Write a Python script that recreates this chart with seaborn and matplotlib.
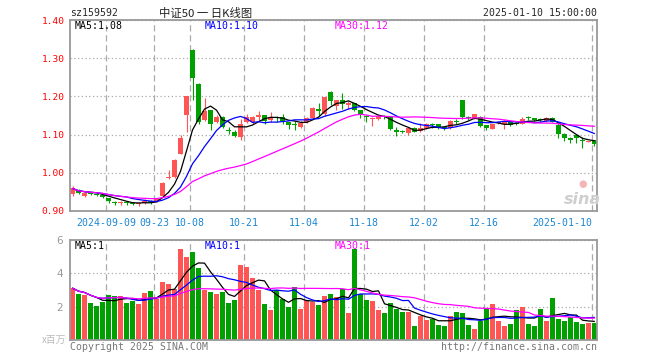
import numpy as np
import pandas as pd
import matplotlib
matplotlib.use('Agg')
import matplotlib.pyplot as plt
import seaborn as sns

# daily candles, 2024-08-30 .. 2025-01-10 (88 trading days)
opens = [0.944, 0.956, 0.939, 0.947, 0.944, 0.943, 0.934, 0.923, 0.921, 0.923,
         0.922, 0.919, 0.922, 0.925, 0.926, 0.938, 0.986, 0.988, 1.050, 1.151,
         1.322, 1.232, 1.138, 1.164, 1.133, 1.147, 1.111, 1.108, 1.094, 1.133,
         1.132, 1.145, 1.151, 1.139, 1.146, 1.145, 1.134, 1.126, 1.121, 1.132,
         1.143, 1.168, 1.153, 1.212, 1.175, 1.190, 1.177, 1.182, 1.164, 1.148,
         1.142, 1.142, 1.148, 1.147, 1.112, 1.109, 1.103, 1.118, 1.110, 1.116,
         1.126, 1.127, 1.118, 1.116, 1.135, 1.190, 1.146, 1.142, 1.147, 1.125,
         1.114, 1.131, 1.127, 1.133, 1.130, 1.129, 1.144, 1.143, 1.140, 1.136,
         1.143, 1.125, 1.101, 1.090, 1.098, 1.086, 1.081, 1.085]
closes = [0.959, 0.947, 0.946, 0.944, 0.943, 0.937, 0.925, 0.922, 0.923, 0.921,
          0.918, 0.921, 0.925, 0.923, 0.932, 0.974, 0.990, 1.033, 1.090, 1.200,
          1.248, 1.133, 1.163, 1.129, 1.147, 1.121, 1.109, 1.096, 1.129, 1.146,
          1.145, 1.152, 1.136, 1.147, 1.145, 1.136, 1.125, 1.125, 1.130, 1.143,
          1.169, 1.161, 1.199, 1.189, 1.190, 1.180, 1.184, 1.165, 1.151, 1.147,
          1.143, 1.149, 1.147, 1.114, 1.107, 1.108, 1.118, 1.108, 1.118, 1.127,
          1.125, 1.116, 1.117, 1.136, 1.134, 1.146, 1.145, 1.153, 1.123, 1.116,
          1.127, 1.132, 1.136, 1.125, 1.129, 1.142, 1.143, 1.138, 1.139, 1.143,
          1.134, 1.101, 1.090, 1.085, 1.090, 1.085, 1.083, 1.076]
highs = [0.966, 0.958, 0.949, 0.948, 0.946, 0.945, 0.935, 0.925, 0.926, 0.925,
         0.924, 0.924, 0.931, 0.928, 0.934, 0.975, 1.008, 1.035, 1.099, 1.202,
         1.325, 1.234, 1.195, 1.165, 1.152, 1.150, 1.121, 1.112, 1.140, 1.155,
         1.150, 1.161, 1.151, 1.159, 1.149, 1.155, 1.134, 1.136, 1.136, 1.145,
         1.173, 1.182, 1.199, 1.215, 1.190, 1.210, 1.187, 1.184, 1.164, 1.151,
         1.147, 1.151, 1.152, 1.149, 1.121, 1.112, 1.120, 1.120, 1.131, 1.131,
         1.131, 1.127, 1.121, 1.137, 1.141, 1.190, 1.150, 1.154, 1.149, 1.125,
         1.129, 1.136, 1.138, 1.136, 1.132, 1.145, 1.150, 1.144, 1.144, 1.145,
         1.145, 1.131, 1.104, 1.094, 1.099, 1.093, 1.084, 1.087]
lows = [0.938, 0.944, 0.937, 0.941, 0.939, 0.935, 0.920, 0.915, 0.917, 0.917,
        0.915, 0.912, 0.918, 0.919, 0.924, 0.936, 0.983, 0.986, 1.048, 1.107,
        1.190, 1.127, 1.136, 1.112, 1.130, 1.116, 1.101, 1.093, 1.085, 1.131,
        1.128, 1.136, 1.129, 1.132, 1.132, 1.127, 1.114, 1.112, 1.117, 1.130,
        1.142, 1.149, 1.149, 1.177, 1.164, 1.168, 1.166, 1.162, 1.144, 1.132,
        1.123, 1.139, 1.141, 1.112, 1.097, 1.105, 1.100, 1.106, 1.107, 1.114,
        1.117, 1.114, 1.112, 1.115, 1.128, 1.142, 1.137, 1.140, 1.120, 1.113,
        1.114, 1.127, 1.115, 1.122, 1.126, 1.127, 1.137, 1.136, 1.134, 1.134,
        1.132, 1.090, 1.083, 1.077, 1.077, 1.066, 1.080, 1.071]
# volume, millions
volumes = [3.11, 2.75, 2.69, 2.20, 2.02, 2.26, 2.69, 2.63, 2.63, 2.20,
           2.32, 2.14, 2.81, 2.93, 2.44, 3.47, 3.35, 3.05, 5.47, 4.99,
           5.29, 4.32, 2.99, 2.87, 2.75, 2.87, 2.20, 2.38, 4.50, 4.38,
           3.72, 2.99, 2.14, 1.78, 2.99, 2.44, 1.96, 3.17, 1.88, 2.38,
           2.30, 2.08, 2.65, 2.75, 2.59, 3.05, 1.60, 5.47, 2.75, 2.38,
           2.34, 1.80, 1.60, 2.20, 1.84, 1.68, 1.68, 0.87, 1.47, 1.23,
           1.27, 0.93, 0.87, 1.47, 1.66, 1.60, 0.93, 0.69, 1.17, 1.88,
           2.14, 1.13, 0.83, 0.99, 1.80, 1.98, 0.99, 0.83, 1.84, 1.17,
           2.51, 1.29, 1.17, 1.39, 1.11, 0.99, 1.05, 1.05]

tick_idx = [6, 14, 20, 29, 39, 49, 59, 69, 87]
tick_labels = ['2024-09-09', '09-23', '10-08', '10-21', '11-04', '11-18',
               '12-02', '12-16', '2025-01-10']

RED = '#ff5555'
GREEN = '#00a000'
GRID = '#aaaaaa'
FRAME = '#999999'

sns.set_theme(style='white')
plt.rcParams['font.family'] = ['DejaVu Sans Mono', 'Noto Sans CJK SC']

df = pd.DataFrame({'open': opens, 'close': closes, 'high': highs,
                   'low': lows, 'vol': volumes})
df['i'] = np.arange(len(df))
for n in (5, 10, 30):
    df[f'ma{n}'] = df['close'].rolling(n, min_periods=1).mean()
    df[f'vma{n}'] = df['vol'].rolling(n, min_periods=1).mean()

up = df['close'] >= df['open']
colors = np.where(up, RED, GREEN)

fig = plt.figure(figsize=(6.6, 3.6), dpi=100)
ax = fig.add_axes([70/660, 1 - 211/360, 527/660, 191/360])
axv = fig.add_axes([70/660, 1 - 340/360, 527/660, 100/360])

# candles
ax.vlines(df['i'], df['low'], df['high'], colors=colors, lw=0.8, zorder=2)
diff = (df['close'] - df['open']).abs()
h = np.maximum(diff, 0.0026)
bottom = np.where(diff >= 0.0026, np.minimum(df['open'], df['close']),
                  (df['open'] + df['close']) / 2 - 0.0013)
ax.bar(df['i'], h, bottom=bottom, width=0.83, color=colors, lw=0, zorder=2)

sns.lineplot(data=df, x='i', y='ma5', color='black', lw=0.9, ax=ax, zorder=3)
sns.lineplot(data=df, x='i', y='ma10', color='#0000ff', lw=0.9, ax=ax, zorder=3)
sns.lineplot(data=df, x='i', y='ma30', color='#ff00ff', lw=0.9, ax=ax, zorder=3)

# volume
axv.bar(df['i'], df['vol'], width=0.83, color=colors, lw=0, zorder=2)
sns.lineplot(data=df, x='i', y='vma5', color='black', lw=0.9, ax=axv, zorder=3)
sns.lineplot(data=df, x='i', y='vma10', color='#0000ff', lw=0.9, ax=axv, zorder=3)
sns.lineplot(data=df, x='i', y='vma30', color='#ff00ff', lw=0.9, ax=axv, zorder=3)

tick_pos = [t - 0.42 for t in tick_idx]
for a in (ax, axv):
    a.set_xlim(-0.42, 87.42)
    a.set_xlabel('')
    a.set_ylabel('')
    a.set_xticks(tick_pos)
    a.xaxis.grid(True, linestyle=(0, (5, 3)), color=GRID, lw=0.9)
    a.yaxis.grid(True, linestyle=(0, (1, 2)), color=GRID, lw=0.9)
    a.tick_params(length=0)
    for s in a.spines.values():
        s.set_color(FRAME)
        s.set_linewidth(1.3)

ax.set_ylim(0.90, 1.40)
ax.set_yticks([0.9, 1.0, 1.1, 1.2, 1.3, 1.4])
ax.set_yticklabels(['0.90', '1.00', '1.10', '1.20', '1.30', '1.40'],
                   color='#ff0000', fontsize=6.8)
ax.tick_params(axis='y', pad=4)
ax.set_xticklabels(tick_labels, color='#1c86d1', fontsize=7.1)
ax.tick_params(axis='x', pad=5)
xl = ax.get_xticklabels()
xl[-1].set_ha('right')

axv.set_ylim(0, 6)
axv.set_yticks([0, 2, 4, 6])
axv.set_yticklabels(['', '2', '4', '6'], color='#999999', fontsize=7.5,
                    family='DejaVu Sans')
axv.tick_params(axis='y', pad=5)
axv.set_xticklabels([])

# MA labels
ma_txt = [('MA5:%.2f' % df['ma5'].iloc[-1], 'black', 0.009),
          ('MA10:%.2f' % df['ma10'].iloc[-1], '#0000ff', 0.256),
          ('MA30:%.2f' % df['ma30'].iloc[-1], '#ff00ff', 0.503)]
for t, c, x in ma_txt:
    ax.text(x, 0.968, t, color=c, fontsize=7.1, transform=ax.transAxes,
            va='center', ha='left')
vma_txt = [('MA5:%.0f' % df['vma5'].iloc[-1], 'black', 0.009),
           ('MA10:%.0f' % df['vma10'].iloc[-1], '#0000ff', 0.256),
           ('MA30:%.0f' % df['vma30'].iloc[-1], '#ff00ff', 0.503)]
for t, c, x in vma_txt:
    axv.text(x, 0.94, t, color=c, fontsize=7.1, transform=axv.transAxes,
             va='center', ha='left')

# header / footer
fig.text(70/660, 1 - 13/360, 'sz159592', fontsize=7.1, va='center', ha='left')
fig.text(206/660, 1 - 13/360, '中证50 一 日K线图', fontsize=8.2, va='center',
         ha='center', family=['Noto Sans CJK SC', 'DejaVu Sans'], color='#222222')
fig.text(597/660, 1 - 13/360, '2025-01-10 15:00:00', fontsize=7.1,
         va='center', ha='right')
fig.text(70/660, 1 - 347/360, 'Copyright 2025 SINA.COM', fontsize=7.1,
         va='center', ha='left', color='#777777')
fig.text(597/660, 1 - 347/360, 'http://finance.sina.com.cn', fontsize=7.1,
         va='center', ha='right', color='#777777')
fig.text(66/660, 1 - 340/360, 'x百万', fontsize=7, va='center', ha='right',
         color='#bbbbbb', family=['Noto Sans CJK SC', 'DejaVu Sans'])

# sina watermark
fig.text(582/660, 1 - 200/360, 'sina', fontsize=11.5, fontweight='bold',
         style='italic', va='center', ha='center', color='#cfcfcf',
         family='DejaVu Sans')
fig.text(583/660, 1 - 184/360, '●', fontsize=7, va='center', ha='center',
         color='#f3b5b5', family='DejaVu Sans')

fig.savefig('out.png', dpi=100)
